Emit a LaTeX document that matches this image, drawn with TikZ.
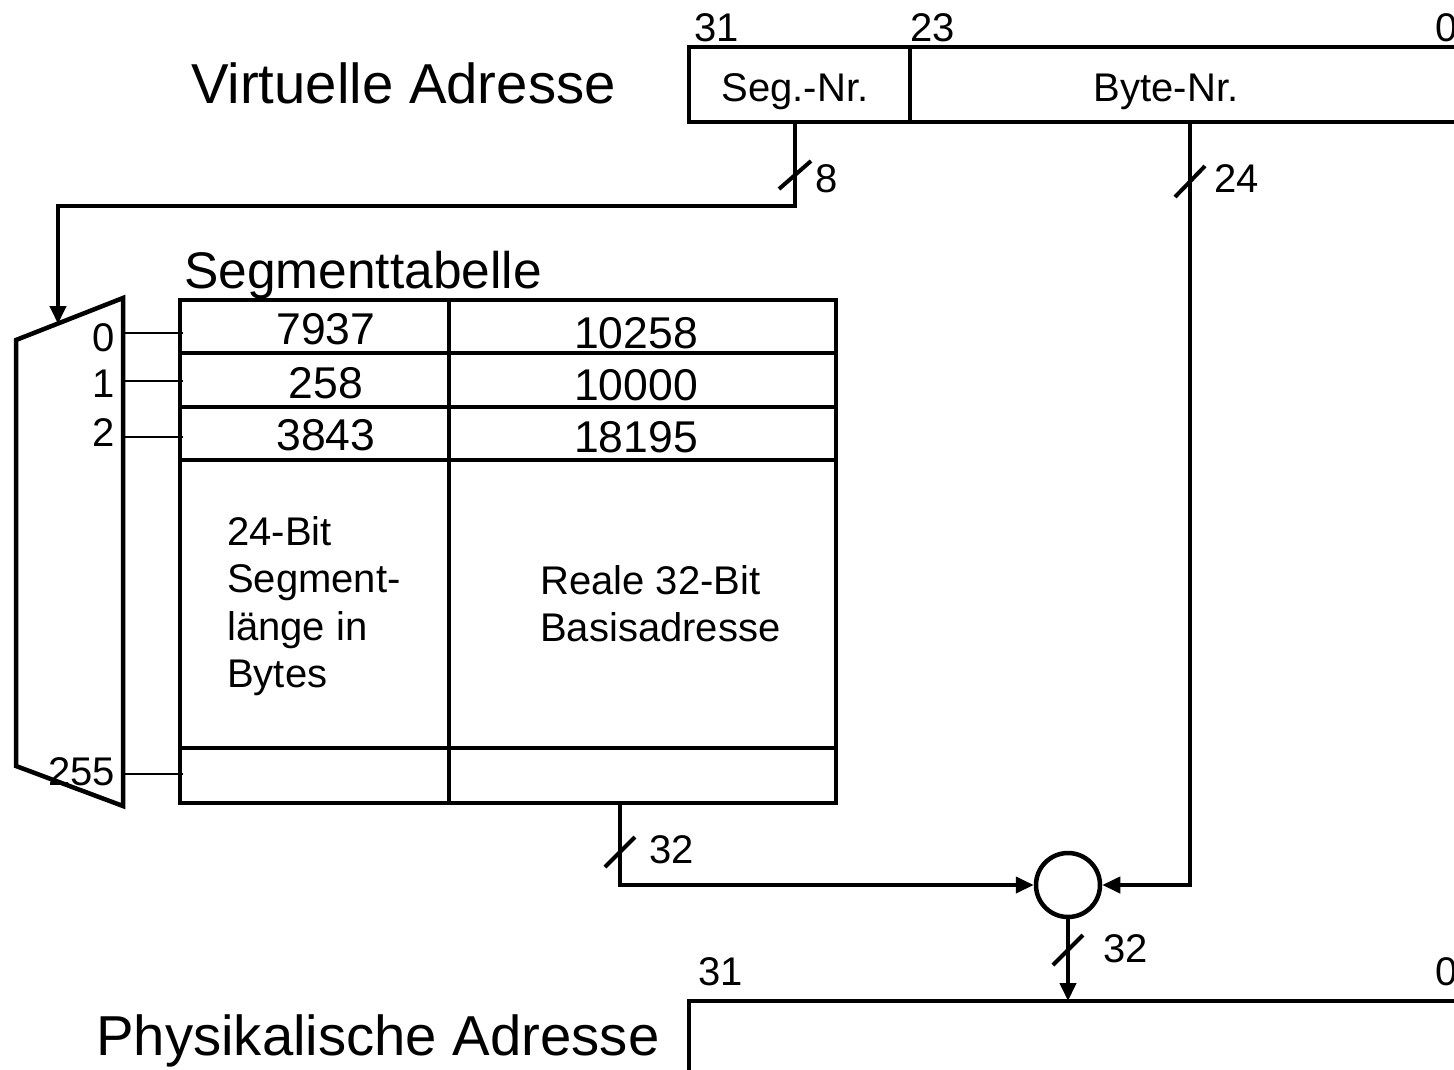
\documentclass[tikz,border=0pt]{standalone}
\usepackage{fontspec}
\setmainfont{Liberation Sans}
\usetikzlibrary{arrows.meta}
\begin{document}
\begin{tikzpicture}[x=1pt,y=-1pt,
  frame/.style={line width=4.5pt},
  conn/.style={line width=4pt},
  inner/.style={line width=3.5pt},
  thin/.style={line width=2.5pt},
  tip/.style={-{Triangle[length=18pt,width=16pt]}},
  big/.style={font=\fontsize{56.3}{66}\selectfont, inner sep=0pt},
  mid/.style={font=\fontsize{51.5}{60}\selectfont, inner sep=0pt},
  num/.style={font=\fontsize{44.5}{52}\selectfont, inner sep=0pt},
  lbl/.style={font=\fontsize{40}{48}\selectfont, inner sep=0pt},
  mux/.style={font=\fontsize{40}{46}\selectfont, inner sep=0pt}
]
\useasboundingbox (0,0) rectangle (1454,1069);

% virtual address
\node[big, anchor=base west] (vtitle) at (191,103) {Virtuelle Adresse};
\draw[frame] (1470,47) -- (689,47) -- (689,122) -- (1470,122);
\draw[frame] (910,47) -- (910,122);
\node[lbl, anchor=base] (segnr) at (795,101) {Seg.-Nr.};
\node[lbl, anchor=base] (bytenr) at (1166,101) {Byte-Nr.};
\node[lbl, anchor=base west] (v31) at (694,41) {31};
\node[lbl, anchor=base west] (v23) at (910,41) {23};
\node[lbl, anchor=base west] (v0) at (1435,41) {0};
\coordinate (segout) at (795,122);
\coordinate (byteout) at (1190,122);

% multiplexer
\draw[frame, line join=miter] (16,340) -- (123,298) -- (123,806) -- (16,766) -- cycle;
\coordinate (muxin) at (58,324);
\node[mux, anchor=base east] (m0) at (115,351) {0};
\node[mux, anchor=base east] (m1) at (115,397) {1};
\node[mux, anchor=base east] (m2) at (115,446) {2};
\node[mux, anchor=base east] (m255) at (115,785) {255};
\draw[thin] (123,333) -- (183,333);
\draw[thin] (123,381) -- (183,381);
\draw[thin] (123,437) -- (183,437);
\draw[thin] (123,774) -- (183,774);

% segment table
\node[mid, anchor=base west] (ttitle) at (184,288) {Segmenttabelle};
\draw[frame] (180,300) rectangle (836,803);
\draw[frame] (449,300) -- (449,803);
\draw[inner] (180,353) -- (836,353);
\draw[inner] (180,407) -- (836,407);
\draw[inner] (180,460) -- (836,460);
\draw[inner] (180,748) -- (836,748);
\node[num, anchor=base] (a0) at (326,344) {7937};
\node[num, anchor=base] (b0) at (636,348) {10258};
\node[num, anchor=base] (a1) at (326,398) {258};
\node[num, anchor=base] (b1) at (636,400) {10000};
\node[num, anchor=base] (a2) at (326,450) {3843};
\node[num, anchor=base] (b2) at (636,452) {18195};
\node[lbl, anchor=base west] (l1) at (227,545) {24-Bit};
\node[lbl, anchor=base west] (l2) at (227,592) {Segment-};
\node[lbl, anchor=base west] (l3) at (227,640) {länge in};
\node[lbl, anchor=base west] (l4) at (227,687) {Bytes};
\node[lbl, anchor=base west] (r1) at (540,594) {Reale 32-Bit};
\node[lbl, anchor=base west] (r2) at (540,641) {Basisadresse};
\coordinate (tabout) at (620,803);

% adder
\node[draw, circle, line width=4.5pt, minimum size=64pt, inner sep=0pt] (add) at (1068,885) {};

% physical address
\node[big, anchor=base west] (ptitle) at (96,1055) {Physikalische Adresse};
\draw[frame] (1470,1001) -- (689,1001) -- (689,1080);
\coordinate (physin) at (1068,1001);
\node[lbl, anchor=base west] (p31) at (698,985) {31};
\node[lbl, anchor=base west] (p0) at (1435,985) {0};

% connectors
\draw[conn, tip] (segout) -- (795,206) -- (58,206) -- (muxin);
\draw[conn, tip] (byteout) |- (add.east);
\draw[conn, tip] (tabout) |- (add.west);
\draw[conn, tip] (add.south) -- (physin);

% bus width marks
\draw[conn] (779,189) -- (811,161);
\node[lbl, anchor=base west] (w8) at (815,192) {8};
\draw[conn] (1175,197) -- (1205,166);
\node[lbl, anchor=base west] (w24) at (1214,192) {24};
\draw[conn] (605,867) -- (635,837);
\node[lbl, anchor=base west] (w32a) at (649,863) {32};
\draw[conn] (1053,965) -- (1083,935);
\node[lbl, anchor=base west] (w32b) at (1103,962) {32};
\end{tikzpicture}
\end{document}
